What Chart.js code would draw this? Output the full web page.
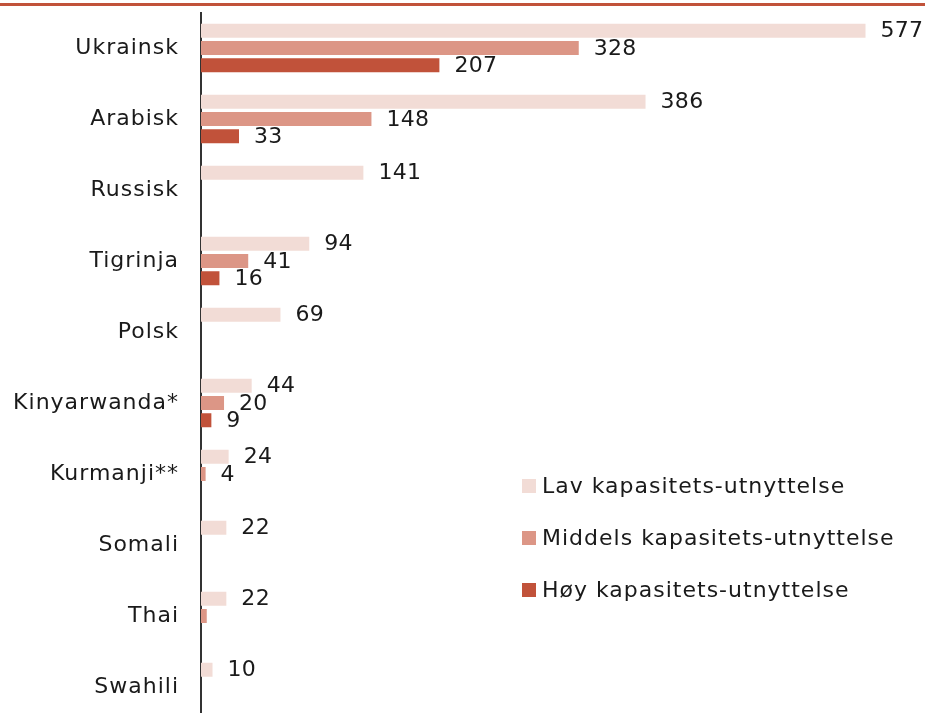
<!DOCTYPE html>
<html>
<head>
<meta charset="utf-8">
<script src="https://cdn.jsdelivr.net/npm/chart.js@4.4.1/dist/chart.umd.min.js"></script>
<style>
html,body{margin:0;padding:0;overflow:hidden;background:#fff;}
#topline{position:absolute;left:0;top:3px;width:925px;height:3px;background:#C1523A;}
#wrap{position:absolute;left:0;top:0;width:925px;height:725px;}
</style>
</head>
<body>
<div id="wrap"><canvas id="c"></canvas></div>
<div id="topline"></div>
<script>
const categories = ["Ukrainsk","Arabisk","Russisk","Tigrinja","Polsk","Kinyarwanda*","Kurmanji**","Somali","Thai","Swahili"];
const seriesNames = ["Lav kapasitets-utnyttelse","Middels kapasitets-utnyttelse","Høy kapasitets-utnyttelse"];
const lav = [577,386,141,94,69,44,24,22,22,10];
const middels = [328,148,null,41,null,20,4,null,5,null];
const hoy = [207,33,null,16,null,9,null,null,null,null];
const unlabeled = [[1,8]]; // [series, category] bars drawn without a value label
const colors = ["#F2DCD6","#DC9686","#C1523A"];

const FONT = "'DejaVu Sans', sans-serif";
const TXT = "#1a1a1a";
const SPACING = '1px';

const spacingPlugin = {
  id:'spacing',
  beforeLayout(chart){ chart.ctx.letterSpacing = SPACING; },
  beforeDraw(chart){ chart.ctx.letterSpacing = SPACING; }
};

const valueLabels = {
  id:'valueLabels',
  afterDatasetsDraw(chart){
    const ctx = chart.ctx;
    ctx.save();
    ctx.letterSpacing = '0.3px';
    ctx.font = "22px " + FONT;
    ctx.fillStyle = TXT;
    ctx.textAlign = 'left';
    ctx.textBaseline = 'middle';
    chart.data.datasets.forEach((ds, si) => {
      const meta = chart.getDatasetMeta(si);
      meta.data.forEach((el, i) => {
        const v = ds.data[i];
        if (v === null || v === undefined) return;
        if (unlabeled.some(p => p[0] === si && p[1] === i)) return;
        ctx.fillText(String(v), el.x + 15, el.y + 1);
      });
    });
    ctx.restore();
  }
};

const legendPlugin = {
  id:'customLegend',
  afterDraw(chart){
    const ctx = chart.ctx;
    ctx.save();
    ctx.font = "22px " + FONT;
    ctx.textBaseline = 'middle';
    ctx.textAlign = 'left';
    chart.data.datasets.forEach((ds, i) => {
      const y = 486 + i * 52;
      ctx.fillStyle = ds.backgroundColor;
      ctx.fillRect(522, y - 7, 14, 14);
      ctx.fillStyle = TXT;
      ctx.fillText(ds.label, 542, y + 1);
    });
    ctx.restore();
  }
};

new Chart(document.getElementById('c'), {
  type:'bar',
  data:{
    labels: categories,
    datasets: [
      {label: seriesNames[0], data: lav, backgroundColor: colors[0]},
      {label: seriesNames[1], data: middels, backgroundColor: colors[1]},
      {label: seriesNames[2], data: hoy, backgroundColor: colors[2]}
    ]
  },
  options:{
    indexAxis:'y',
    responsive:true,
    maintainAspectRatio:false,
    animation:false,
    datasets:{bar:{categoryPercentage:0.73, barPercentage:0.81, skipNull:false}},
    layout:{padding:{top:12.5, bottom:2.5, left:0, right:33}},
    plugins:{legend:{display:false}, tooltip:{enabled:false}},
    scales:{
      x:{min:0, max:600, display:false},
      y:{
        grid:{display:false, drawTicks:false},
        border:{display:true, color:'#333333', width:2},
        ticks:{color:TXT, font:{family:FONT, size:22}, padding:22},
        afterFit(scale){ scale.width = 201; scale.paddingTop = 0; scale.paddingBottom = 0; }
      }
    }
  },
  plugins:[spacingPlugin, valueLabels, legendPlugin]
});
</script>
</body>
</html>
